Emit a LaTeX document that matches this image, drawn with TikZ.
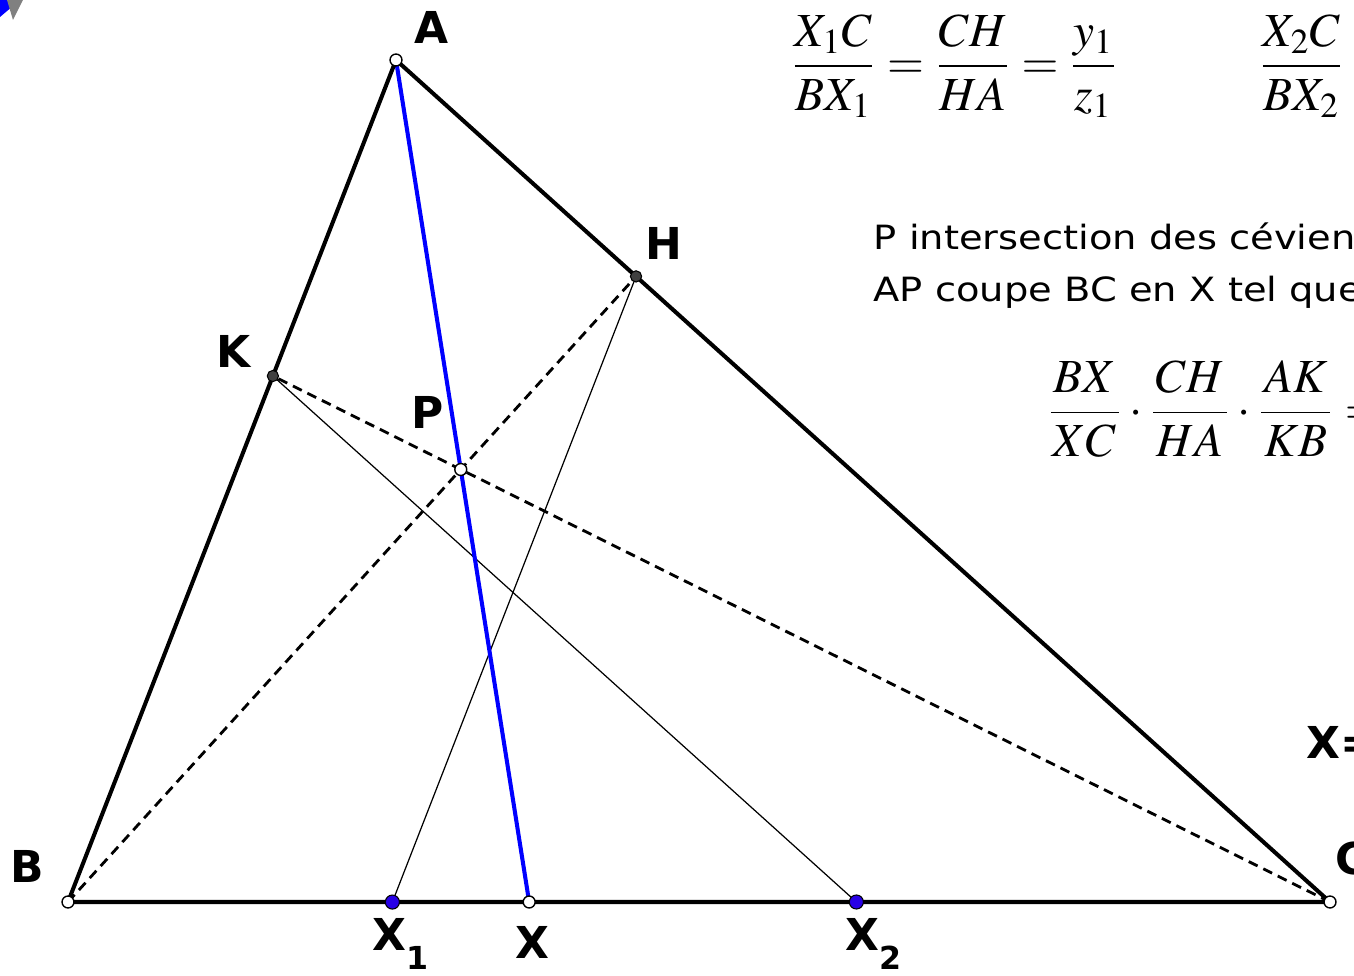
\documentclass[tikz,border=0pt]{standalone}
\usepackage{mathptmx}
\usepackage{fontspec}
\setmainfont{DejaVu Sans}
\newfontfamily\wideface[FakeStretch=1.15]{DejaVu Sans}
\usetikzlibrary{calc}
\definecolor{ptblue}{RGB}{40,0,230}
\definecolor{ptdark}{RGB}{64,64,64}
\begin{document}
\begin{tikzpicture}[x=0.01cm,y=-0.01cm,
  side/.style={line width=1.15pt,line cap=round},
  ceva/.style={line width=1.15pt,draw=blue},
  dashline/.style={line width=0.8pt,dash pattern=on 2.8pt off 1.8pt},
  thinline/.style={line width=0.35pt},
  openpt/.style={circle,draw=black,fill=white,line width=0.4pt,inner sep=0pt,minimum size=3.4pt},
  darkpt/.style={circle,draw=black,fill=ptdark,line width=0.3pt,inner sep=0pt,minimum size=3.2pt},
  bluept/.style={circle,draw=black,fill=ptblue,line width=0.3pt,inner sep=0pt,minimum size=4pt},
  lab/.style={font=\fontsize{12.5}{14}\selectfont\bfseries,inner sep=0pt},
  txt/.style={font=\wideface\fontsize{9.5}{15}\selectfont,inner sep=0pt,align=left,anchor=base west},
  frm/.style={font=\fontsize{13.5}{15}\selectfont,inner sep=0pt}
]
\useasboundingbox (0,0) rectangle (1354,976);
\clip (0,0) rectangle (1354,976);
% corner icon
\fill[blue] (0,0) -- (20,0) -- (0,17) -- cycle;
\fill[gray] (7,0) -- (23,0) -- (13,20) -- cycle;
% points
\coordinate (A) at (396,60);
\coordinate (B) at (68,902);
\coordinate (C) at (1330,902);
\coordinate (H) at ($(A)!0.257!(C)$);
\coordinate (K) at ($(A)!0.3753!(B)$);
\coordinate (P) at (intersection of B--H and C--K);
\coordinate (X) at (intersection of A--P and B--C);
\coordinate (Hb) at ($(H)+(B)-(A)$);
\coordinate (Kc) at ($(K)+(C)-(A)$);
\coordinate (X1) at (intersection of H--Hb and B--C);
\coordinate (X2) at (intersection of K--Kc and B--C);
% lines
\draw[thinline] (H) -- (X1);
\draw[thinline] (K) -- (X2);
\draw[dashline] (B) -- (H);
\draw[dashline] (C) -- (K);
\draw[ceva] (A) -- (X);
\draw[side] (A) -- (B) -- (C) -- cycle;
% point markers
\node[openpt] (nA) at (A) {};
\node[openpt] (nB) at (B) {};
\node[openpt] (nC) at (C) {};
\node[openpt] (nX) at (X) {};
\node[openpt] (nP) at (P) {};
\node[darkpt] (nH) at (H) {};
\node[darkpt] (nK) at (K) {};
\node[bluept] (nX1) at (X1) {};
\node[bluept] (nX2) at (X2) {};
% labels
\node[lab] (lA) at (432,27) {A};
\node[lab] (lH) at (664,243) {H};
\node[lab] (lK) at (234,351) {K};
\node[lab] (lP) at (428,412) {P};
\node[lab] (lB) at (27,866) {B};
\node[lab] (lC) at (1352,858) {C};
\node[lab] (lX) at (532,942) {X};
\node[lab,anchor=west] (lX1) at (372,944) {X\raisebox{-0.42em}{\fontsize{9}{9}\selectfont 1}};
\node[lab,anchor=west] (lX2) at (845,944) {X\raisebox{-0.42em}{\fontsize{9}{9}\selectfont 2}};
\node[lab,anchor=west] (lXeq) at (1306,742) {X=};
% text
\node[txt] (t1) at (873,302) {P intersection des céviennes\\AP coupe BC en X tel que};
% formulas
\node[frm,anchor=west] (f1) at (790,66) {$\displaystyle\frac{X_1C}{BX_1}=\frac{CH}{HA}=\frac{y_1}{z_1}$};
\node[frm,anchor=west] (f2) at (1258,66) {$\displaystyle\frac{X_2C}{BX_2}=$};
\node[frm,anchor=west] (f3) at (1046,409) {$\displaystyle\frac{\mkern1mu BX\mkern1mu}{XC}\cdot\frac{\mkern1mu CH\mkern1mu}{HA}\cdot\frac{\mkern1mu AK\mkern1mu}{KB}=1$};
\end{tikzpicture}
\end{document}
